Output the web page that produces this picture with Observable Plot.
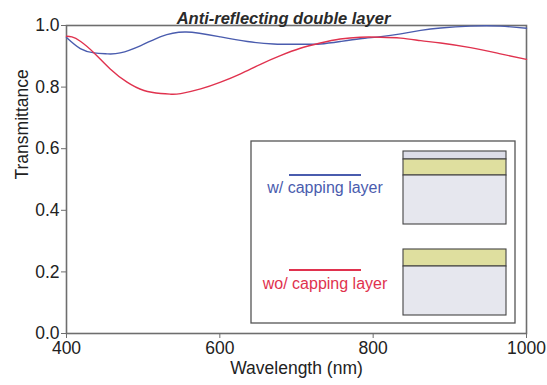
<!DOCTYPE html>
<html>
<head>
<meta charset="utf-8">
<script src="https://cdn.jsdelivr.net/npm/d3@7"></script>
<script src="https://cdn.jsdelivr.net/npm/@observablehq/plot@0.6"></script>
<style>
  html, body { margin: 0; padding: 0; background: #fff; }
  #chart { position: relative; width: 547px; height: 385px; font-family: "Liberation Sans", Arial, sans-serif; }
  #chart svg.legend { position: absolute; left: 0; top: 0; pointer-events: none; }
</style>
</head>
<body>
<div id="chart"></div>
<script>
// Transmittance spectra (wavelength in nm)
const wlCapped = [400, 418, 436, 453, 470, 497, 523, 556, 601, 636, 670, 705, 731, 757, 783, 810, 836, 862, 888, 927, 966, 1000];
const tCapped  = [0.961, 0.925, 0.911, 0.908, 0.911, 0.935, 0.964, 0.979, 0.963, 0.948, 0.940, 0.939, 0.940, 0.948, 0.957, 0.964, 0.973, 0.984, 0.992, 0.998, 0.998, 0.991];

const wlBare = [400, 407, 418, 436, 457, 479, 501, 523, 536, 549, 575, 601, 627, 653, 679, 705, 731, 757, 783, 810, 836, 862, 888, 927, 966, 1000];
const tBare  = [0.965, 0.963, 0.949, 0.911, 0.859, 0.816, 0.789, 0.779, 0.777, 0.779, 0.794, 0.816, 0.843, 0.874, 0.902, 0.926, 0.943, 0.956, 0.962, 0.962, 0.959, 0.951, 0.943, 0.928, 0.908, 0.890];

const xTicks = [400, 600, 800, 1000];
const yTicks = [0, 0.2, 0.4, 0.6, 0.8, 1.0];

const seriesNames = ["w/ capping layer", "wo/ capping layer"];
const seriesColors = ["#4a5cae", "#e0324e"];

const rows = [
  ...wlCapped.map((w, i) => ({wl: w, t: tCapped[i], s: seriesNames[0]})),
  ...wlBare.map((w, i) => ({wl: w, t: tBare[i], s: seriesNames[1]}))
];

const font = "Liberation Sans, Arial, sans-serif";
const axisSize = 17.5;

const plot = Plot.plot({
  width: 547,
  height: 385,
  marginLeft: 66,
  marginRight: 21,
  marginTop: 25,
  marginBottom: 52,
  style: {fontFamily: font, fontSize: `${axisSize}px`, color: "#222", background: "#fff"},
  x: {domain: [400, 1000], ticks: xTicks},
  y: {domain: [0, 1], ticks: yTicks},
  color: {domain: seriesNames, range: seriesColors},
  marks: [
    Plot.frame({stroke: "#6e6e6e", strokeWidth: 1.6}),
    Plot.axisX({ticks: xTicks, tickSize: 5, tickPadding: 3, tickFormat: d3.format("d"), label: null, fontSize: axisSize, stroke: "#6e6e6e", fill: "#222"}),
    Plot.axisY({ticks: yTicks, tickSize: 5, tickPadding: 2, tickFormat: d3.format(".1f"), label: null, fontSize: axisSize, stroke: "#6e6e6e", fill: "#222"}),
    Plot.line(rows, {x: "wl", y: "t", z: "s", stroke: "s", strokeWidth: 1.4, curve: "natural"}),
    Plot.text(["Wavelength (nm)"], {frameAnchor: "bottom", dy: 40, fontSize: axisSize, fill: "#222"}),
    Plot.text(["Transmittance"], {frameAnchor: "left", rotate: -90, dx: -44, fontSize: axisSize, fill: "#222"}),
    Plot.text(["Anti-reflecting double layer"], {frameAnchor: "top", dx: -13, dy: -13, fontSize: 16.5, fontWeight: "bold", fontStyle: "italic", fill: "#2a2a2a"})
  ]
});

const chart = document.getElementById("chart");
chart.appendChild(plot);

// Legend panel with layer-stack sketches for each sample
const leg = d3.select(chart).append("svg")
  .attr("class", "legend")
  .attr("width", 547).attr("height", 385);

leg.append("rect").attr("x", 251).attr("y", 141).attr("width", 264).attr("height", 182)
  .attr("fill", "#fff").attr("stroke", "#555").attr("stroke-width", 1.3);

const entries = [
  {name: seriesNames[0], color: seriesColors[0], lineY: 175, textY: 193,
   stack: [{h: 8, fill: "#dcdde8"}, {h: 16, fill: "#dfdf9f"}, {h: 49, fill: "#e6e7ee"}], top: 151},
  {name: seriesNames[1], color: seriesColors[1], lineY: 270, textY: 289,
   stack: [{h: 17, fill: "#dfdf9f"}, {h: 49, fill: "#e6e7ee"}], top: 249}
];

entries.forEach(e => {
  leg.append("line").attr("x1", 289).attr("x2", 361).attr("y1", e.lineY).attr("y2", e.lineY)
    .attr("stroke", e.color).attr("stroke-width", 2);
  leg.append("text").attr("x", 325).attr("y", e.textY).attr("text-anchor", "middle")
    .attr("font-family", font).attr("font-size", 16).attr("fill", e.color).text(e.name);
  let y = e.top;
  e.stack.forEach(l => {
    leg.append("rect").attr("x", 403).attr("y", y).attr("width", 103).attr("height", l.h)
      .attr("fill", l.fill).attr("stroke", "#444").attr("stroke-width", 1.1);
    y += l.h;
  });
});
</script>
</body>
</html>
